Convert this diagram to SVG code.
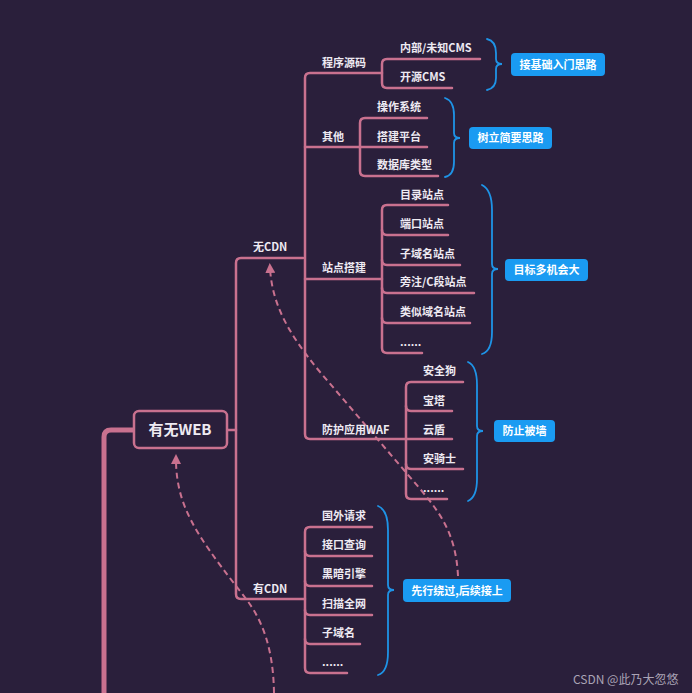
<svg xmlns="http://www.w3.org/2000/svg" width="692" height="693" viewBox="0 0 692 693">
<style>
.ln{fill:none;stroke:#c9718f;stroke-width:2.5;stroke-linecap:round;stroke-linejoin:round}
.br{fill:none;stroke:#1e93e6;stroke-width:1.8;stroke-linecap:round}
.dash{fill:none;stroke:#c9718f;stroke-width:2;stroke-dasharray:6 4}
.t{font-family:"Noto Sans CJK SC","Liberation Sans",sans-serif;font-size:11px;font-weight:bold;fill:#eeeaf2}
.bt{font-family:"Noto Sans CJK SC","Liberation Sans",sans-serif;font-size:11px;font-weight:bold;fill:#ffffff;text-anchor:middle}
.box{fill:#1a9bf2}
</style>
<defs>
<marker id="ah" viewBox="0 0 10 10" refX="5" refY="5" markerWidth="5" markerHeight="5" orient="auto">
<path d="M0,0 L10,5 L0,10 z" fill="#c9718f"/>
</marker>
</defs>
<rect width="692" height="693" fill="#2a1f3b"/>

<g id="connectors">
<path class="ln" d="M104 693 V437 Q104 430 111 430 H133" style="stroke-width:5"/>
<path class="ln" d="M227 430 H236"/>
<path class="ln" d="M303 258 H241 Q236 258 236 263 V594 Q236 599 241 599 H305"/>
<path class="ln" d="M382 73 H310 Q305 73 305 78 V434 Q305 439 310 439 H452"/>
<path class="ln" d="M305 147 H427"/>
<path class="ln" d="M305 279 H382"/>
<path class="ln" d="M480 59 H387 Q382 59 382 64 V83 Q382 88 387 88 H452"/>
<path class="ln" d="M427 118 H365 Q360 118 360 123 V171 Q360 176 365 176 H438"/>
<path class="ln" d="M448 205 H387 Q382 205 382 210 V348 Q382 353 387 353 H422"/>
<path class="ln" d="M382 230 Q382 235 387 235 H448"/>
<path class="ln" d="M382 260 Q382 265 387 265 H460"/>
<path class="ln" d="M382 288 Q382 293 387 293 H474"/>
<path class="ln" d="M382 318 Q382 323 387 323 H470"/>
<path class="ln" d="M463 382 H411 Q406 382 406 387 V494 Q406 499 411 499 H447"/>
<path class="ln" d="M406 406 Q406 411 411 411 H452"/>
<path class="ln" d="M406 464 Q406 469 411 469 H463"/>
<path class="ln" d="M372 527 H310 Q305 527 305 532 V668 Q305 673 310 673 H347"/>
<path class="ln" d="M305 551 Q305 556 310 556 H372"/>
<path class="ln" d="M305 581 Q305 586 310 586 H372"/>
<path class="ln" d="M305 610 Q305 615 310 615 H372"/>
<path class="ln" d="M305 639 Q305 644 310 644 H360"/>
<path class="dash" d="M458 576 C456 535 441 514 421 490 L320 372 C286 331 272 302 270 268" marker-end="url(#ah)"/>
<path class="dash" d="M274 693 C273 630 252 606 236 586 C196 534 176 505 176 459" marker-end="url(#ah)"/>
</g>

<g id="brackets">
<path class="br" d="M487 39 Q496 41 496 53 V59 Q496 64 502 64 Q496 64 496 69 V78 Q496 88 487 90"/>
<path class="br" d="M445 98 Q454 101 454 115 V133 Q454 138 460 138 Q454 138 454 143 V162 Q454 175 445 177"/>
<path class="br" d="M482 185 Q492 190 492 210 V264 Q492 269 498 269 Q492 269 492 274 V332 Q492 351 482 354"/>
<path class="br" d="M468 362 Q477 366 477 385 V426 Q477 431 483 431 Q477 431 477 436 V479 Q477 497 468 501"/>
<path class="br" d="M378 506 Q388 510 388 530 V585 Q388 590 394 590 Q388 590 388 595 V652 Q388 672 378 675"/>
</g>

<g id="root">
<rect x="134" y="411" width="93" height="37" rx="5" fill="#2a1f3b" stroke="#c9718f" stroke-width="2.5"/>
<text x="180" y="435" style="font-family:'Noto Sans CJK SC','Liberation Sans',sans-serif;font-size:15px;font-weight:bold;fill:#eeeaf2;text-anchor:middle">有无WEB</text>
</g>

<g id="n-wucdn"><text class="t" x="253" y="251">无CDN</text></g>
<g id="n-youcdn"><text class="t" x="253" y="593">有CDN</text></g>

<g id="n-chengxu"><text class="t" x="322" y="67">程序源码</text></g>
<g id="n-neibu"><text class="t" x="400" y="52">内部/未知CMS</text></g>
<g id="n-kaiyuan"><text class="t" x="400" y="81">开源CMS</text></g>
<g id="b-jichu"><rect class="box" x="511" y="53" width="94" height="23" rx="4"/><text class="bt" x="558" y="69">接基础入门思路</text></g>

<g id="n-qita"><text class="t" x="322" y="141">其他</text></g>
<g id="n-caozuo"><text class="t" x="377" y="111">操作系统</text></g>
<g id="n-dajian"><text class="t" x="377" y="141">搭建平台</text></g>
<g id="n-shujuku"><text class="t" x="377" y="169">数据库类型</text></g>
<g id="b-shuli"><rect class="box" x="469" y="127" width="83" height="22" rx="4"/><text class="bt" x="510.5" y="142">树立简要思路</text></g>

<g id="n-zhandian"><text class="t" x="322" y="272">站点搭建</text></g>
<g id="n-mulu"><text class="t" x="400" y="199">目录站点</text></g>
<g id="n-duankou"><text class="t" x="400" y="228">端口站点</text></g>
<g id="n-ziyuming"><text class="t" x="400" y="258">子域名站点</text></g>
<g id="n-pangzhu"><text class="t" x="400" y="286">旁注/C段站点</text></g>
<g id="n-leisi"><text class="t" x="400" y="316">类似域名站点</text></g>
<g id="n-more1"><text class="t" x="400" y="346">......</text></g>
<g id="b-mubiao"><rect class="box" x="505" y="259" width="83" height="22" rx="4"/><text class="bt" x="546.5" y="274">目标多机会大</text></g>

<g id="n-waf"><text class="t" x="322" y="434">防护应用WAF</text></g>
<g id="n-anquangou"><text class="t" x="423" y="375">安全狗</text></g>
<g id="n-baota"><text class="t" x="423" y="405">宝塔</text></g>
<g id="n-yundun"><text class="t" x="423" y="434">云盾</text></g>
<g id="n-anqishi"><text class="t" x="423" y="463">安骑士</text></g>
<g id="n-more2"><text class="t" x="423" y="492">......</text></g>
<g id="b-fangzhi"><rect class="box" x="494" y="420" width="61" height="22" rx="4"/><text class="bt" x="524.5" y="435">防止被墙</text></g>

<g id="n-guowai"><text class="t" x="322" y="520">国外请求</text></g>
<g id="n-jiekou"><text class="t" x="322" y="549">接口查询</text></g>
<g id="n-heian"><text class="t" x="322" y="578">黑暗引擎</text></g>
<g id="n-saomiao"><text class="t" x="322" y="608">扫描全网</text></g>
<g id="n-ziyu"><text class="t" x="322" y="637">子域名</text></g>
<g id="n-more3"><text class="t" x="322" y="666">......</text></g>
<g id="b-xianxing"><rect class="box" x="403" y="579" width="108" height="23" rx="4"/><text class="bt" x="457" y="595">先行绕过,后续接上</text></g>

<text x="573" y="684" style="font-family:'Noto Sans CJK SC','Liberation Sans',sans-serif;font-size:12px;fill:#aaa4b6">CSDN @此乃大忽悠</text>
</svg>
